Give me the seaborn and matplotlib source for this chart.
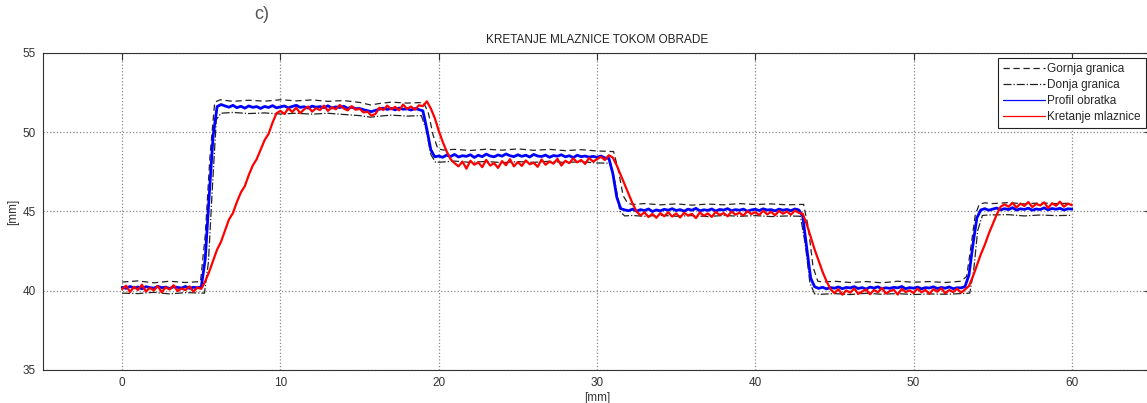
import numpy as np
import matplotlib
matplotlib.use("Agg")
import matplotlib.pyplot as plt
import seaborn as sns

# sample positions along the workpiece [mm]
x_mm = np.arange(0, 60.25, 0.25)

# Profil obratka (measured profile) [mm]
profil = [
    40.22, 40.15, 40.27, 40.18, 40.24, 40.12, 40.26, 40.20, 40.16, 40.28, 40.19, 40.23, 40.14, 40.25, 40.21, 40.17, 40.27, 40.15, 40.22, 40.19,
    40.24, 42.00, 46.00, 49.80, 51.62, 51.75, 51.66, 51.58, 51.70, 51.55, 51.64, 51.52, 51.66, 51.57, 51.62, 51.50, 51.63, 51.56, 51.68, 51.54,
    51.60, 51.66, 51.54, 51.63, 51.70, 51.57, 51.61, 51.52, 51.65, 51.58, 51.62, 51.55, 51.67, 51.53, 51.60, 51.56, 51.64, 51.51, 51.58, 51.49,
    51.50, 51.42, 51.36, 51.30, 51.38, 51.45, 51.52, 51.44, 51.50, 51.41, 51.53, 51.45, 51.48, 51.40, 51.50, 51.43, 51.35, 50.20, 48.90, 48.45,
    48.50, 48.42, 48.56, 48.47, 48.60, 48.44, 48.52, 48.48, 48.58, 48.41, 48.55, 48.46, 48.62, 48.50, 48.45, 48.57, 48.49, 48.63, 48.52, 48.46,
    48.58, 48.48, 48.55, 48.44, 48.60, 48.50, 48.47, 48.56, 48.42, 48.53, 48.49, 48.58, 48.45, 48.52, 48.40, 48.55, 48.46, 48.50, 48.43, 48.48,
    48.42, 48.50, 48.38, 48.35, 47.40, 45.90, 45.18, 45.10, 45.05, 45.15, 45.02, 45.12, 45.06, 45.16, 45.00, 45.10, 45.04, 45.14, 45.08, 45.18,
    45.06, 45.12, 45.02, 45.15, 45.08, 45.20, 45.04, 45.11, 45.07, 45.16, 45.03, 45.13, 45.09, 45.18, 45.05, 45.12, 45.08, 45.15, 45.02, 45.10,
    45.14, 45.06, 45.17, 45.09, 45.12, 45.04, 45.15, 45.08, 45.13, 45.05, 45.16, 45.10, 44.70, 42.70, 40.80, 40.25, 40.15, 40.22, 40.12, 40.20,
    40.16, 40.24, 40.13, 40.21, 40.18, 40.26, 40.14, 40.20, 40.11, 40.23, 40.17, 40.25, 40.12, 40.19, 40.15, 40.22, 40.18, 40.27, 40.13, 40.20,
    40.16, 40.23, 40.12, 40.20, 40.17, 40.25, 40.14, 40.21, 40.16, 40.24, 40.13, 40.19, 40.18, 40.26, 41.00, 42.90, 44.60, 45.10, 45.18, 45.08,
    45.15, 45.22, 45.10, 45.18, 45.12, 45.24, 45.09, 45.17, 45.13, 45.21, 45.08, 45.16, 45.12, 45.23, 45.10, 45.19, 45.14, 45.20, 45.09, 45.17,
    45.15,
]

# Kretanje mlaznice (nozzle movement) [mm]
mlaznica = [
    40.10, 40.32, 39.92, 40.25, 40.05, 40.38, 39.95, 40.18, 40.02, 40.30, 39.90, 40.22, 40.08, 40.35, 39.98, 40.15, 40.04, 40.28, 39.94, 40.20,
    40.12, 40.60, 41.20, 41.90, 42.60, 43.10, 43.80, 44.50, 44.90, 45.60, 46.20, 46.60, 47.30, 47.90, 48.30, 48.90, 49.50, 49.90, 50.60, 51.20,
    51.35, 51.15, 51.50, 51.28, 51.55, 51.20, 51.45, 51.62, 51.30, 51.52, 51.40, 51.68, 51.35, 51.58, 51.45, 51.72, 51.50, 51.38, 51.65, 51.42,
    51.48, 51.25, 51.30, 51.05, 51.15, 51.55, 51.40, 51.68, 51.45, 51.60, 51.38, 51.75, 51.48, 51.62, 51.42, 51.70, 51.65, 51.95, 51.50, 50.90,
    50.10, 49.40, 48.80, 48.30, 48.05, 47.85, 48.15, 47.70, 48.20, 47.95, 48.10, 47.80, 48.25, 47.90, 48.05, 47.75, 48.18, 47.92, 48.30, 47.85,
    48.12, 47.88, 48.22, 47.98, 48.08, 47.82, 48.28, 47.95, 48.15, 48.02, 48.32, 47.90, 48.20, 48.05, 48.35, 48.10, 48.25, 48.00, 48.38, 48.15,
    48.30, 48.45, 48.25, 48.55, 48.40, 47.90, 47.30, 46.70, 46.10, 45.50, 45.00, 44.75, 44.95, 44.65, 44.85, 44.60, 44.90, 44.70, 44.95, 44.68,
    44.88, 44.62, 44.92, 44.75, 44.85, 44.58, 44.95, 44.72, 44.88, 44.66, 44.98, 44.78, 44.90, 44.70, 45.00, 44.80, 44.92, 44.74, 45.02, 44.84,
    44.95, 44.78, 45.05, 44.82, 44.98, 44.76, 45.04, 44.86, 45.00, 44.80, 45.06, 44.92, 44.85, 44.20, 43.40, 42.60, 41.90, 41.20, 40.60, 40.10,
    39.85, 40.10, 39.75, 40.02, 39.88, 40.15, 39.80, 39.95, 40.08, 39.78, 40.05, 39.90, 40.18, 39.82, 39.98, 40.06, 39.76, 40.12, 39.92, 40.02,
    39.86, 40.14, 39.90, 40.05, 39.80, 40.10, 39.94, 40.16, 39.84, 40.04, 39.92, 40.12, 39.88, 40.08, 40.30, 40.90, 41.60, 42.30, 42.90, 43.60,
    44.20, 44.80, 45.30, 45.45, 45.30, 45.55, 45.25, 45.50, 45.35, 45.60, 45.28, 45.48, 45.38, 45.58, 45.22, 45.52, 45.36, 45.62, 45.30, 45.50,
    45.40,
]

# Gornja granica (upper limit)
gornja_x = [0, 1, 2, 3, 4, 4.95, 5.25, 5.55, 5.85, 6.2, 7, 8, 9, 10, 11, 12, 13, 14, 15, 15.7, 16.3, 17, 18,
            19.05, 19.35, 19.65, 19.95, 20.3, 21, 22, 23, 24, 25, 26, 27, 28, 29, 30,
            31.05, 31.35, 31.65, 31.95, 32.3, 33, 34, 35, 36, 37, 38, 39, 40, 41, 42,
            43.05, 43.35, 43.65, 43.95, 44.3, 45, 46, 47, 48, 49, 50, 51, 52, 53,
            53.35, 53.6, 53.9, 54.15, 54.5, 55, 56, 57, 58, 59, 60]
gornja_y = [40.55, 40.62, 40.50, 40.60, 40.52, 40.58, 43.50, 48.50, 51.90, 52.05, 51.95, 52.02, 51.96, 52.05, 51.98, 52.04, 51.95, 52.00, 51.88, 51.72, 51.82, 51.90, 51.84,
            51.88, 51.20, 49.80, 48.95, 48.88, 48.92, 48.85, 48.93, 48.87, 48.95, 48.86, 48.92, 48.84, 48.90, 48.82,
            48.78, 47.60, 46.00, 45.50, 45.45, 45.50, 45.42, 45.48, 45.40, 45.47, 45.42, 45.50, 45.44, 45.48, 45.42,
            45.45, 44.00, 41.50, 40.60, 40.55, 40.60, 40.52, 40.58, 40.50, 40.60, 40.54, 40.58, 40.52, 40.60,
            40.90, 42.60, 44.80, 45.45, 45.55, 45.50, 45.56, 45.48, 45.54, 45.50, 45.52]

# Donja granica (lower limit)
donja_x = [0, 1, 2, 3, 4, 5.2, 5.45, 5.7, 5.95, 6.25, 7, 8, 9, 10, 11, 12, 13, 14, 15, 15.7, 16.3, 17, 18,
           18.9, 19.2, 19.5, 19.8, 20.2, 21, 22, 23, 24, 25, 26, 27, 28, 29, 30,
           30.85, 31.15, 31.45, 31.75, 32.2, 33, 34, 35, 36, 37, 38, 39, 40, 41, 42,
           42.85, 43.15, 43.45, 43.75, 44.2, 45, 46, 47, 48, 49, 50, 51, 52, 53,
           53.55, 53.8, 54.05, 54.35, 54.7, 56, 57, 58, 59, 60]
donja_y = [39.85, 39.82, 39.90, 39.80, 39.88, 39.85, 41.80, 46.50, 50.80, 51.20, 51.25, 51.18, 51.22, 51.15, 51.20, 51.14, 51.20, 51.12, 51.05, 50.95, 51.02, 51.08, 51.02,
           51.05, 50.20, 48.60, 48.10, 48.12, 48.18, 48.10, 48.16, 48.08, 48.15, 48.10, 48.17, 48.09, 48.14, 48.06,
           48.05, 46.80, 45.00, 44.72, 44.75, 44.70, 44.76, 44.70, 44.74, 44.68, 44.75, 44.70, 44.74, 44.68, 44.72,
           44.70, 43.00, 40.50, 39.80, 39.78, 39.82, 39.76, 39.84, 39.78, 39.82, 39.76, 39.80, 39.78, 39.82,
           39.85, 41.30, 43.80, 44.75, 44.78, 44.80, 44.72, 44.78, 44.74, 44.76]

x_ticks = [0, 10, 20, 30, 40, 50, 60]
y_ticks = [35, 40, 45, 50, 55]

sns.set_style("white")
plt.rcParams['font.family'] = ['Liberation Sans', 'DejaVu Sans']

fig = plt.figure(figsize=(11.47, 4.03), dpi=100)
ax = fig.add_axes([43 / 1147, 1 - 370 / 403, 1108 / 1147, 317 / 403])

sns.lineplot(x=gornja_x, y=gornja_y, ax=ax, color='#222222', linewidth=0.9,
             linestyle=(0, (5, 3)), label='Gornja granica', estimator=None, sort=False)
sns.lineplot(x=donja_x, y=donja_y, ax=ax, color='#222222', linewidth=0.9,
             linestyle='-.', label='Donja granica', estimator=None, sort=False)
sns.lineplot(x=x_mm, y=profil, ax=ax, color='#0000ff', linewidth=2.0,
             label='Profil obratka', estimator=None, sort=False)
sns.lineplot(x=x_mm, y=mlaznica, ax=ax, color='#ff0000', linewidth=1.6,
             label='Kretanje mlaznice', estimator=None, sort=False)

ax.set_xlim(-5, 65)
ax.set_ylim(35, 55)
ax.set_xticks(x_ticks)
ax.set_yticks(y_ticks)
ax.grid(True, linestyle=':', color='#888888', linewidth=0.9)
ax.tick_params(direction='in', top=True, right=True, length=5, width=0.8,
               labelsize=8.5, colors='#333333', pad=5)
for s in ax.spines.values():
    s.set_color('#333333')
    s.set_linewidth(0.8)

ax.set_title('KRETANJE MLAZNICE TOKOM OBRADE', fontsize=8.5, color='#222222', pad=7)
ax.set_xlabel('[mm]', fontsize=8.5, color='#333333', labelpad=2)
ax.set_ylabel('[mm]', fontsize=8.5, color='#333333', labelpad=3)

leg = ax.legend(loc='upper right', bbox_to_anchor=(1.0, 1.0), borderaxespad=0.45,
                fontsize=8.5, frameon=True, fancybox=False, edgecolor='#222222',
                framealpha=1, handlelength=3.6, handletextpad=0.2,
                labelspacing=0.35, borderpad=0.4)
leg.get_frame().set_linewidth(0.8)
for h in leg.get_lines():
    h.set_linewidth(0.9)

fig.text(0.222, 1 - 19 / 403, 'c)', fontsize=13, color='#555555', va='baseline')

fig.savefig('out.png', dpi=100)
